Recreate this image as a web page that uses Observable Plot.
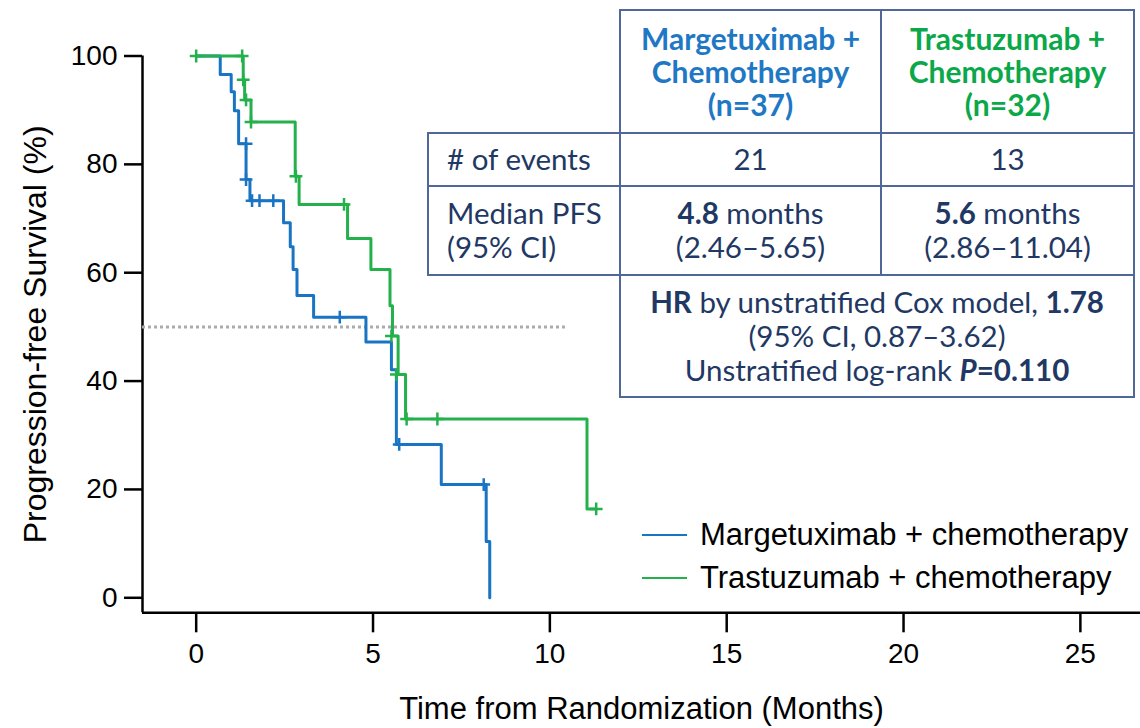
<!DOCTYPE html>
<html>
<head>
<meta charset="utf-8">
<script src="https://cdn.jsdelivr.net/npm/d3@7"></script>
<script src="https://cdn.jsdelivr.net/npm/@observablehq/plot@0.6"></script>
<style>
  html, body { margin: 0; padding: 0; background: #fff; }
  #wrap { position: relative; width: 1140px; height: 728px; overflow: hidden; }
  #chart { position: absolute; left: 0; top: 0; }
  .cell { position: absolute; box-sizing: border-box; border: 2px solid #4e6899;
          display: flex; flex-direction: column; justify-content: center; align-items: center;
          font-family: Lato, "Open Sans", sans-serif; font-size: 29.5px; color: #1f3864; line-height: 34px; text-align: center; white-space: nowrap; }
  .cell.left { align-items: flex-start; padding-left: 18px; text-align: left; }
  .hdr { font-weight: bold; font-size: 30px; line-height: 33px; }
  .leg { position: absolute; font-family: "Liberation Sans", Arial, sans-serif; font-size: 31px; color: #000; line-height: 1; }
  .legline { position: absolute; height: 0; width: 45px; }
</style>
</head>
<body>
<div id="wrap">
  <div id="chart"></div>
</div>
<script>
// ---- Data ----
const margTime = [0, 0.68, 0.99, 1.08, 1.20, 1.41, 1.52, 2.47, 2.66, 2.74, 2.85, 3.32, 4.80, 5.52, 5.66, 6.93, 8.20, 8.30];
const margSurv = [100, 96.6, 93.4, 89.9, 83.8, 77.2, 73.3, 69.2, 64.8, 60.6, 55.8, 51.8, 47.2, 42.1, 28.3, 20.9, 10.4, 0];
const margCensorTime = [1.41, 1.41, 1.58, 1.79, 2.18, 4.06, 5.74, 8.13];
const margCensorSurv = [83.8, 77.2, 73.3, 73.3, 73.3, 51.8, 28.3, 20.9];

const trasTime = [0, 1.33, 1.37, 1.55, 2.80, 2.91, 4.28, 4.94, 5.48, 5.55, 5.71, 5.92, 11.05, 11.31];
const trasSurv = [100, 95.6, 91.9, 87.8, 77.8, 72.6, 66.3, 60.6, 53.9, 48.3, 41.2, 33.0, 16.4, 16.4];
const trasCensorTime = [0, 1.30, 1.33, 1.41, 1.55, 2.82, 4.18, 5.52, 5.66, 5.95, 6.82, 11.31];
const trasCensorSurv = [100, 100, 95.6, 91.9, 87.8, 77.8, 72.6, 48.3, 41.2, 33.0, 33.0, 16.4];

const seriesNames = ["Margetuximab + chemotherapy", "Trastuzumab + chemotherapy"];
const seriesColors = ["#1a74c4", "#24b14b"];
const xTicks = [0, 5, 10, 15, 20, 25];
const yTicks = [0, 20, 40, 60, 80, 100];
const medianLevel = 50;
const medianLineEnd = 10.44;
const xTitle = "Time from Randomization (Months)";
const yTitle = "Progression-free Survival (%)";

// table texts
const armHeaders = [["Margetuximab +", "Chemotherapy", "(n=37)"], ["Trastuzumab +", "Chemotherapy", "(n=32)"]];
const headerColors = ["#1f78c4", "#0ba84a"];
const eventsLabel = "# of events";
const events = ["21", "13"];
const medianLabel = ["Median PFS", "(95% CI)"];
const medianVals = ["4.8", "5.6"];
const medianCI = ["(2.46–5.65)", "(2.86–11.04)"];

// ---- build ----
const toRows = (t, s, name) => t.map((d, i) => ({time: d, surv: s[i], arm: name}));
const marg = toRows(margTime, margSurv, seriesNames[0]);
const tras = toRows(trasTime, trasSurv, seriesNames[1]);
const margC = toRows(margCensorTime, margCensorSurv, seriesNames[0]);
const trasC = toRows(trasCensorTime, trasCensorSurv, seriesNames[1]);

const xDom = [-1.518, 26.7];
const yDom = [-2.77, 100];
const fontAxis = '"Liberation Sans", Arial, sans-serif';

const chart = Plot.plot({
  width: 1140,
  height: 728,
  marginLeft: 142,
  marginRight: 0,
  marginTop: 55.5,
  marginBottom: 115.7,
  style: {fontFamily: fontAxis, color: "#000", background: "transparent", overflow: "visible"},
  x: {domain: xDom, axis: null},
  y: {domain: yDom, axis: null},
  color: {domain: seriesNames, range: seriesColors},
  marks: [
    Plot.axisX({ticks: xTicks, tickSize: 20, tickPadding: 10, fontSize: 28, strokeWidth: 2.5, label: null, tickFormat: d => d}),
    Plot.axisY({ticks: yTicks, tickSize: 18, tickPadding: 7, fontSize: 28, strokeWidth: 2.5, label: null, tickFormat: d => d}),
    Plot.ruleX([xDom[0]], {y1: yDom[0], y2: yDom[1], strokeWidth: 2.5, stroke: "#000"}),
    Plot.ruleY([yDom[0]], {x1: xDom[0], x2: xDom[1], strokeWidth: 2.5, stroke: "#000"}),
    Plot.ruleY([medianLevel], {x1: xDom[0], x2: medianLineEnd, stroke: "#ababab", strokeWidth: 3, strokeDasharray: "3,3"}),
    Plot.line(marg, {x: "time", y: "surv", stroke: "arm", curve: "step-after", strokeWidth: 3}),
    Plot.dot(margC, {x: "time", y: "surv", stroke: "arm", symbol: "plus", r: 4.2, strokeWidth: 2.5}),
    Plot.line(tras, {x: "time", y: "surv", stroke: "arm", curve: "step-after", strokeWidth: 3}),
    Plot.dot(trasC, {x: "time", y: "surv", stroke: "arm", symbol: "plus", r: 4.2, strokeWidth: 2.5}),
    Plot.text([yTitle], {text: d => d, frameAnchor: "left", dx: -107, rotate: -90, textAnchor: "middle", lineAnchor: "middle", fontSize: 32}),
    Plot.text([xTitle], {text: d => d, frameAnchor: "bottom", dy: 96, textAnchor: "middle", lineAnchor: "middle", fontSize: 31})
  ]
});
document.getElementById("chart").appendChild(chart);

// ---- table overlay ----
const wrap = document.getElementById("wrap");
function cell(x, y, w, h, html, cls) {
  const d = document.createElement("div");
  d.className = "cell" + (cls ? " " + cls : "");
  d.style.left = (x - 1) + "px";
  d.style.top = (y - 1) + "px";
  d.style.width = (w + 2) + "px";
  d.style.height = (h + 2) + "px";
  d.innerHTML = html;
  wrap.appendChild(d);
  return d;
}
const colX = [620, 881, 1134];
const rowY = [10, 132.5, 186, 274.5, 397];
armHeaders.forEach((lines, i) => {
  cell(colX[i], rowY[0], colX[i + 1] - colX[i], rowY[1] - rowY[0],
    lines.map(l => `<div class="hdr" style="color:${headerColors[i]}">${l}</div>`).join(""));
});
cell(428, rowY[1], colX[0] - 428, rowY[2] - rowY[1], `<div>${eventsLabel}</div>`, "left");
events.forEach((e, i) => cell(colX[i], rowY[1], colX[i + 1] - colX[i], rowY[2] - rowY[1], `<div>${e}</div>`));
cell(428, rowY[2], colX[0] - 428, rowY[3] - rowY[2], medianLabel.map(l => `<div>${l}</div>`).join(""), "left");
medianVals.forEach((m, i) => cell(colX[i], rowY[2], colX[i + 1] - colX[i], rowY[3] - rowY[2],
  `<div><b>${m}</b> months</div><div>${medianCI[i]}</div>`));
cell(colX[0], rowY[3], colX[2] - colX[0], rowY[4] - rowY[3],
  `<div><b>HR</b> by unstratified Cox model, <b>1.78</b></div><div>(95% CI, 0.87–3.62)</div><div>Unstratified log-rank <b><i>P</i>=0.110</b></div>`);

// ---- legend overlay ----
const legY = [535, 578];
seriesNames.forEach((n, i) => {
  const l = document.createElement("div");
  l.className = "legline";
  l.style.left = "642px";
  l.style.top = (legY[i] - 1) + "px";
  l.style.borderTop = `2.5px solid ${seriesColors[i]}`;
  wrap.appendChild(l);
  const t = document.createElement("div");
  t.className = "leg";
  t.style.left = "700px";
  t.style.top = (legY[i] - 16) + "px";
  t.textContent = n;
  wrap.appendChild(t);
});
</script>
</body>
</html>
